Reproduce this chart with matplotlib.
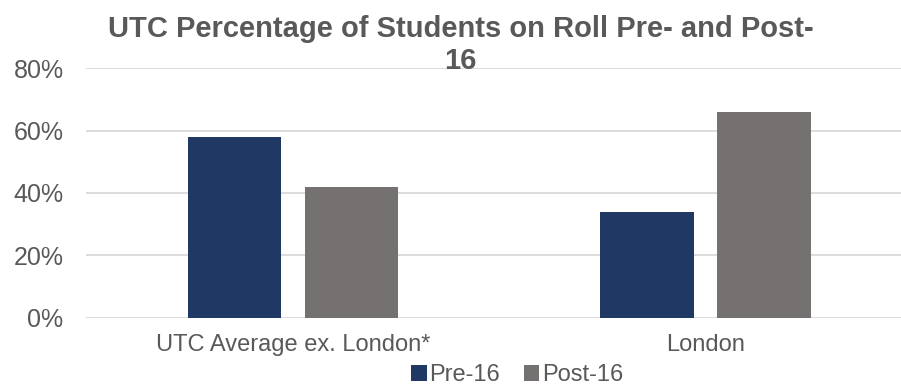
import matplotlib
matplotlib.use("Agg")
import matplotlib.pyplot as plt
import numpy as np

plt.rcParams['font.family'] = ['Liberation Sans', 'DejaVu Sans']

categories = ["UTC Average ex. London*", "London"]
pre16 = [0.58, 0.34]
post16 = [0.42, 0.66]
yticks = [0, 0.2, 0.4, 0.6, 0.8]
ytick_labels = ["0%", "20%", "40%", "60%", "80%"]

navy = '#203864'
grey = '#767171'
text_col = '#595959'

fig = plt.figure(figsize=(9.01, 3.85), dpi=100)
ax = fig.add_axes([0.096, 0.175, 0.916, 0.648])

x = np.arange(len(categories))
w = 0.226
ax.bar(x - 0.142, pre16, w, color=navy, label="Pre-16", zorder=3)
ax.bar(x + 0.142, post16, w, color=grey, label="Post-16", zorder=3)

ax.set_xlim(-0.5, 1.5)
ax.set_ylim(0, 0.8)
ax.set_yticks(yticks)
ax.set_yticklabels(ytick_labels)
ax.set_xticks(x)
ax.set_xticklabels(categories)
ax.tick_params(axis='y', length=0, labelsize=18, colors=text_col, pad=16.5)
ax.tick_params(axis='x', length=0, labelsize=17, colors=text_col, pad=12)
ax.grid(axis='y', color='#d9d9d9', linewidth=1.3, zorder=0)
for s in ax.spines.values():
    s.set_visible(False)

fig.text(0.511, 0.883, "UTC Percentage of Students on Roll Pre- and Post-\n16",
         ha='center', va='center', fontsize=21, fontweight='bold', color=text_col,
         linespacing=1.2)

fig.legend(loc='center', bbox_to_anchor=(0.574, 0.026), ncol=2, frameon=False,
           fontsize=17, handlelength=0.65, handleheight=0.65, handletextpad=0.12,
           columnspacing=1.0, labelcolor=text_col, borderpad=0)

fig.savefig("out.png", dpi=100)
